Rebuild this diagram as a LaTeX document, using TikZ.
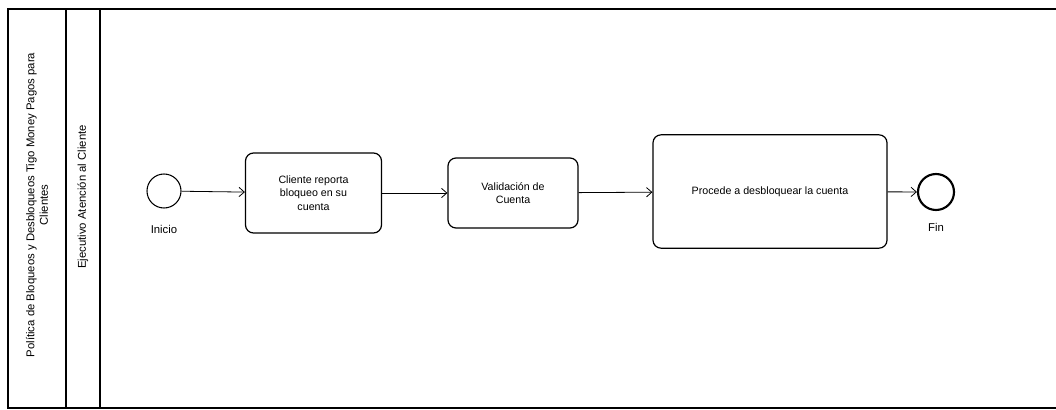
\documentclass[tikz,border=0pt]{standalone}
\usepackage{fontspec}
\setmainfont{Liberation Sans}
\usetikzlibrary{arrows.meta}

\begin{document}
\begin{tikzpicture}[x=0.75pt,y=-0.75pt,
    tarea/.style={draw,line width=0.9pt,rounded corners=6pt,align=center,
      font=\fontsize{8}{10}\selectfont},
    evento/.style={draw,circle,inner sep=0pt,line width=0.8pt},
    rotulo/.style={font=\fontsize{8.5}{10}\selectfont},
    flujo/.style={-{Straight Barb[length=4pt,width=7pt]},line width=0.6pt}]
    \useasboundingbox (0,0) rectangle (1056,410);

    % pool y lane
    \draw[line width=0.9pt] (1056,9) -- (8,9) -- (8,408) -- (1056,408);
    \draw[line width=0.9pt] (66,9) -- (66,408) (100,9) -- (100,408);
    \node[rotate=90,align=center,rotulo] (pool) at (37,205)
      {Política de Bloqueos y Desbloqueos Tigo Money Pagos para\\Clientes};
    \node[rotate=90,rotulo] (lane) at (83,197) {Ejecutivo Atención al Cliente};

    % eventos y tareas
    \node[evento,minimum size=25.5pt,label={[rotulo,yshift=-9pt]below:Inicio}] (inicio) at (164,191) {};
    \node[tarea,minimum width=102pt,minimum height=60pt] (reporta) at (313.5,193)
      {Cliente reporta\\bloqueo en su\\cuenta};
    \node[tarea,minimum width=97.5pt,minimum height=52.5pt] (valida) at (513,193)
      {Validación de\\Cuenta};
    \node[tarea,minimum width=175.5pt,minimum height=85pt] (procede) at (770,191.5)
      {Procede a desbloquear la cuenta};
    \node[evento,line width=1.6pt,minimum size=27pt,label={[rotulo,yshift=-6pt]below:Fin}] (fin) at (936,192) {};

    \path[flujo] (inicio) edge (reporta)
      (reporta) edge (valida)
      (valida) edge (procede)
      (procede) edge (fin);
\end{tikzpicture}
\end{document}
